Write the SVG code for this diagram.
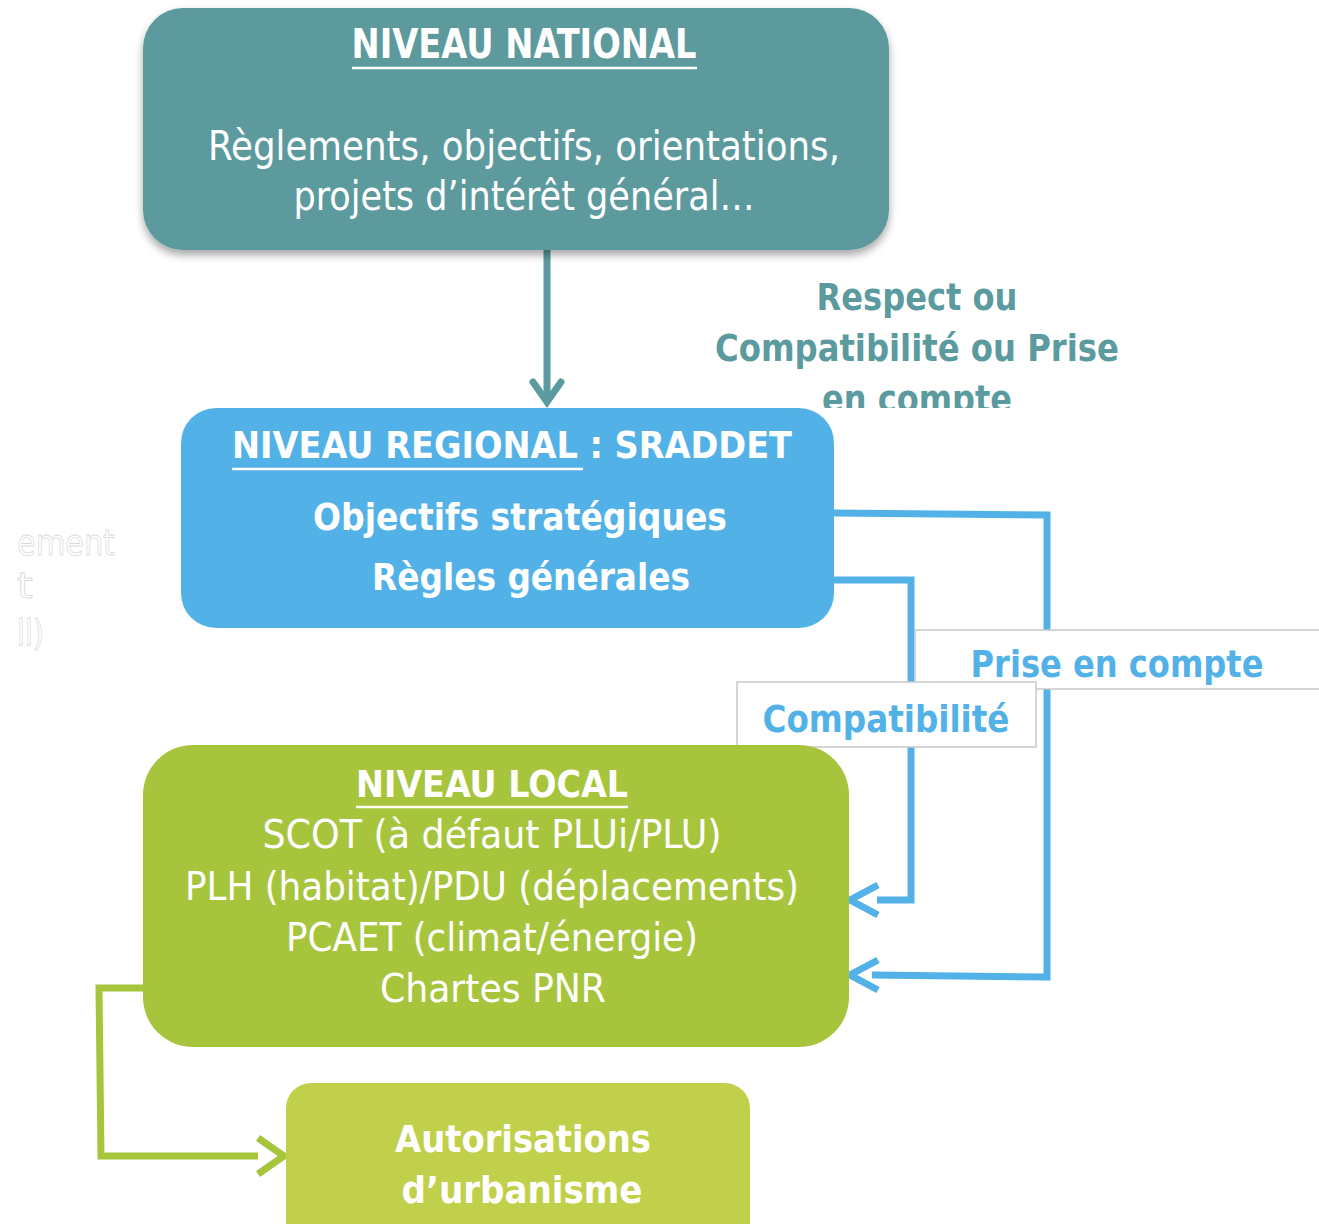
<svg xmlns="http://www.w3.org/2000/svg" width="1319" height="1224" viewBox="0 0 1319 1224">
<style>
text{font-family:"Liberation Sans Narrow","DejaVu Sans Condensed","Liberation Sans",sans-serif;text-anchor:middle}
.w{fill:#ffffff}
.b{font-weight:bold}
.t{fill:#5b9a9e}
.bl{fill:#52b2e8}
.ul{stroke:#ffffff;stroke-width:2.5}
.cb{fill:none;stroke:#52b2e8;stroke-width:7}
.cg{fill:none;stroke:#a7c53c;stroke-width:7}
.ct{fill:none;stroke:#5b9a9e;stroke-width:7}
.lab{fill:#ffffff;stroke:#c8c8c8;stroke-width:1.5}
.ghost{fill:#ffffff;stroke:#dadada;stroke-width:0.8;font-family:"DejaVu Sans","Liberation Sans",sans-serif;text-anchor:start}
</style>
<defs>
<filter id="sh" x="-10%" y="-10%" width="120%" height="130%">
<feDropShadow dx="0" dy="5" stdDeviation="4" flood-color="#000" flood-opacity="0.35"/>
</filter>
<clipPath id="clipR"><rect x="0" y="0" width="1319" height="408"/></clipPath>
</defs>
<rect width="1319" height="1224" fill="#ffffff"/>

<g id="ghost-text">
<text class="ghost" x="17" y="555" font-size="36" textLength="98" lengthAdjust="spacingAndGlyphs">ement</text>
<text class="ghost" x="17" y="598" font-size="36" textLength="16" lengthAdjust="spacingAndGlyphs">t</text>
<text class="ghost" x="17" y="645" font-size="36" textLength="27" lengthAdjust="spacingAndGlyphs">ll)</text>
</g>

<g id="connectors">
<path class="ct" d="M547 250 V402"/>
<path class="ct" d="M533 382 L547 402 L561 382" stroke-linecap="round"/>
<path class="cb" d="M834 513 L1047 515 L1047 977 L872 975"/>
<path class="cb" d="M878 960 L850 975 L878 990"/>
<path class="cb" d="M834 580 H911 V900 H877"/>
<path class="cb" d="M878 885 L850 900 L878 915"/>
<path class="cg" d="M143 988 H99 L101 1156 H258"/>
<path class="cg" d="M258 1138 L284 1156 L258 1174"/>
</g>

<g id="node-national">
<rect x="143" y="8" width="746" height="242" rx="40" fill="#5b9a9e" filter="url(#sh)"/>
<text class="w b" x="524" y="58" font-size="40" textLength="345" lengthAdjust="spacingAndGlyphs">NIVEAU NATIONAL</text>
<line class="ul" x1="352" y1="68" x2="697" y2="68"/>
<text class="w" x="524" y="160" font-size="41" textLength="632" lengthAdjust="spacingAndGlyphs">Règlements, objectifs, orientations,</text>
<text class="w" x="524" y="210" font-size="41" textLength="461" lengthAdjust="spacingAndGlyphs">projets d’intérêt général…</text>
</g>

<g id="label-respect" clip-path="url(#clipR)">
<text class="t b" x="917" y="310" font-size="38" textLength="201" lengthAdjust="spacingAndGlyphs">Respect ou</text>
<text class="t b" x="917" y="361" font-size="38" textLength="404" lengthAdjust="spacingAndGlyphs">Compatibilité ou Prise</text>
<text class="t b" x="917" y="412" font-size="38" textLength="190" lengthAdjust="spacingAndGlyphs">en compte</text>
</g>

<g id="node-regional">
<rect x="181" y="408" width="653" height="220" rx="35" fill="#52b2e8"/>
<text class="w b" x="512" y="458" font-size="38" textLength="560" lengthAdjust="spacingAndGlyphs">NIVEAU REGIONAL : SRADDET</text>
<line class="ul" x1="232" y1="469" x2="583" y2="469"/>
<text class="w b" x="520" y="530" font-size="38" textLength="414" lengthAdjust="spacingAndGlyphs">Objectifs stratégiques</text>
<text class="w b" x="531" y="590" font-size="38" textLength="318" lengthAdjust="spacingAndGlyphs">Règles générales</text>
</g>

<g id="label-prise">
<rect class="lab" x="915" y="630" width="410" height="59"/>
<text class="bl b" x="1117" y="677" font-size="38" textLength="293" lengthAdjust="spacingAndGlyphs">Prise en compte</text>
</g>

<g id="label-compat">
<rect class="lab" x="737" y="682" width="299" height="65"/>
<text class="bl b" x="886" y="732" font-size="38" textLength="247" lengthAdjust="spacingAndGlyphs">Compatibilité</text>
</g>

<g id="node-local">
<rect x="143" y="745" width="706" height="302" rx="50" fill="#a7c53c"/>
<text class="w b" x="492" y="797" font-size="38" textLength="272" lengthAdjust="spacingAndGlyphs">NIVEAU LOCAL</text>
<line class="ul" x1="356" y1="807" x2="628" y2="807"/>
<text class="w" x="492" y="848" font-size="39" textLength="459" lengthAdjust="spacingAndGlyphs">SCOT (à défaut PLUi/PLU)</text>
<text class="w" x="492" y="900" font-size="39" textLength="614" lengthAdjust="spacingAndGlyphs">PLH (habitat)/PDU (déplacements)</text>
<text class="w" x="492" y="951" font-size="39" textLength="412" lengthAdjust="spacingAndGlyphs">PCAET (climat/énergie)</text>
<text class="w" x="493" y="1002" font-size="39" textLength="226" lengthAdjust="spacingAndGlyphs">Chartes PNR</text>
</g>

<g id="node-autorisations">
<rect x="286" y="1083" width="464" height="170" rx="25" fill="#c1d04a"/>
<text class="w b" x="523" y="1152" font-size="38" textLength="256" lengthAdjust="spacingAndGlyphs">Autorisations</text>
<text class="w b" x="522" y="1203" font-size="38" textLength="241" lengthAdjust="spacingAndGlyphs">d’urbanisme</text>
</g>
</svg>
